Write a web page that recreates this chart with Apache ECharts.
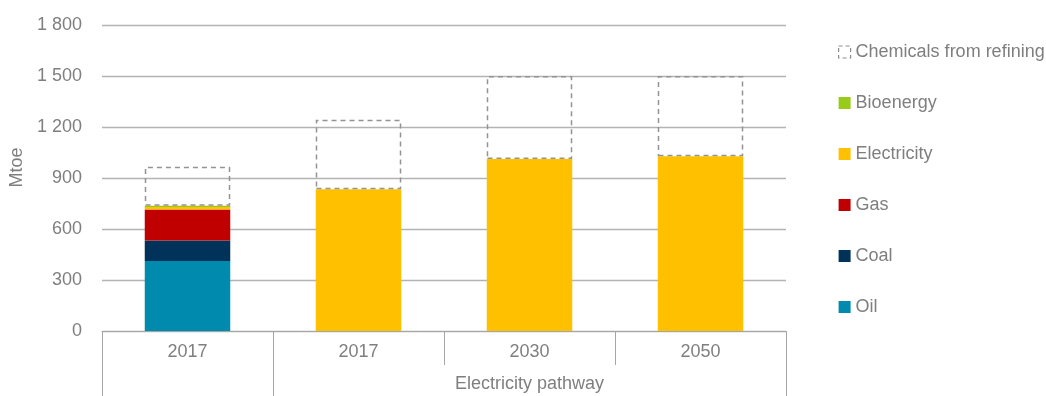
<!DOCTYPE html>
<html>
<head>
<meta charset="utf-8">
<script src="https://cdn.jsdelivr.net/npm/echarts@6/dist/echarts.min.js"></script>
<style>
html,body{margin:0;padding:0;background:#fff;}
#c{width:1046px;height:396px;}
</style>
</head>
<body>
<div id="c"></div>
<script>
var categories = ['2017', '2017', '2030', '2050'];
var groupLabel = 'Electricity pathway';
var yTicks = [0, 300, 600, 900, 1200, 1500, 1800];

var oil = [412, 0, 0, 0];
var coal = [120, 0, 0, 0];
var gas = [182, 0, 0, 0];
var electricity = [15, 834, 1012, 1028];
var bioenergy = [8, 0, 0, 0];
var chemicals = [229, 409, 488, 472];

var FONT = '"Liberation Sans", Arial, sans-serif';
var TXT = '#7f7f7f';
var GRID = '#b3b3b3';

function fmt(v) {
  return String(v).replace(/\B(?=(\d{3})+(?!\d))/g, ' ');
}

var chart = echarts.init(document.getElementById('c'), null, {renderer: 'canvas'});
chart.setOption({
  animation: false,
  backgroundColor: '#fff',
  textStyle: {fontFamily: FONT},
  grid: {left: 102, right: 260, top: 25, bottom: 65, containLabel: false},
  legend: {
    orient: 'vertical',
    left: 833,
    top: 37,
    icon: 'rect',
    itemWidth: 12,
    itemHeight: 12,
    itemGap: 31,
    textStyle: {color: TXT, fontSize: 18, fontFamily: FONT, lineHeight: 20},
    data: [
      {name: 'Chemicals from refining', itemStyle: {color: 'rgba(255,255,255,0)', borderColor: '#8c8c8c', borderWidth: 1.2, borderType: [4, 3]}},
      'Bioenergy', 'Electricity', 'Gas', 'Coal', 'Oil'
    ]
  },
  xAxis: [
    {
      type: 'category',
      data: categories,
      axisLine: {show: true, lineStyle: {color: '#a6a6a6', width: 1}},
      axisTick: {show: true, interval: 0, length: 34, lineStyle: {color: '#a6a6a6', width: 1}},
      axisLabel: {color: TXT, fontSize: 18, fontFamily: FONT, margin: 12, interval: 0},
      splitLine: {show: false}
    },
    {
      type: 'value',
      min: 0,
      max: 4,
      position: 'bottom',
      axisLine: {show: false},
      axisTick: {show: true, customValues: [0, 1, 4], length: 66, lineStyle: {color: '#a6a6a6', width: 1}},
      axisLabel: {
        show: true,
        customValues: [2.5],
        formatter: function () { return groupLabel; },
        color: TXT, fontSize: 18, fontFamily: FONT, margin: 44
      },
      splitLine: {show: false}
    }
  ],
  yAxis: {
    type: 'value',
    min: 0,
    max: 1800,
    interval: 300,
    name: 'Mtoe',
    nameLocation: 'middle',
    nameRotate: 90,
    nameGap: 72.5,
    nameTextStyle: {color: TXT, fontSize: 18, fontFamily: FONT, padding: [0, 0, 0, 21]},
    axisLine: {show: false},
    axisTick: {show: false},
    axisLabel: {color: TXT, fontSize: 18, fontFamily: FONT, margin: 20, formatter: fmt},
    splitLine: {show: true, lineStyle: {color: GRID, width: 1.3}}
  },
  series: [
    {name: 'Oil', type: 'bar', stack: 't', barWidth: '50%', data: oil, itemStyle: {color: '#008aae'}},
    {name: 'Coal', type: 'bar', stack: 't', data: coal, itemStyle: {color: '#00325a'}},
    {name: 'Gas', type: 'bar', stack: 't', data: gas, itemStyle: {color: '#c00000'}},
    {name: 'Electricity', type: 'bar', stack: 't', data: electricity, itemStyle: {color: '#ffc000'}},
    {name: 'Bioenergy', type: 'bar', stack: 't', data: bioenergy, itemStyle: {color: '#99cc1a'}},
    {name: 'Chemicals from refining', type: 'bar', stack: 't', data: chemicals,
      itemStyle: {color: 'rgba(255,255,255,0)', borderColor: '#939393', borderWidth: 1.5, borderType: [5, 4]}}
  ]
});
</script>
</body>
</html>
